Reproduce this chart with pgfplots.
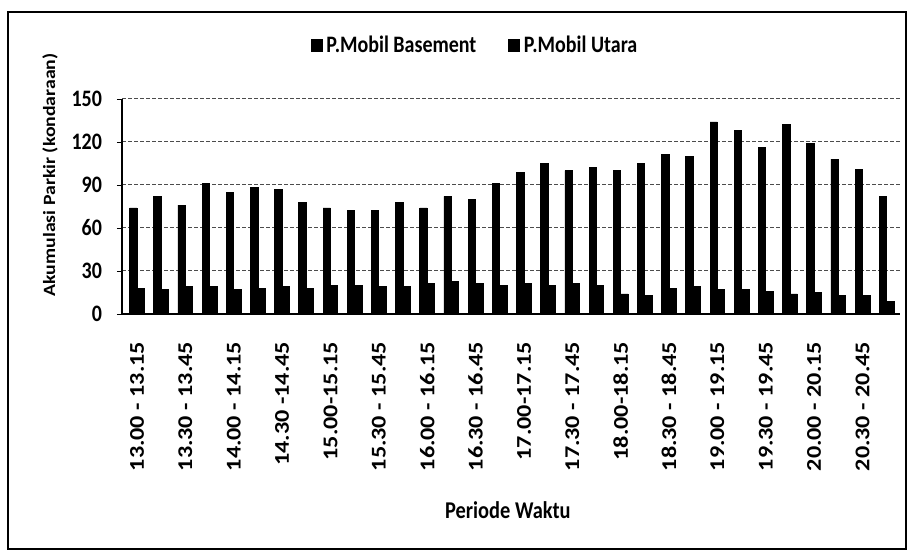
\documentclass[border=0pt]{standalone}
\usepackage{fontspec}
\setmainfont{Carlito}
\usepackage{graphicx}
\usepackage{pgfplots}
\usepackage{pgfplotstable}
\pgfplotsset{compat=1.18}

% the scan is stretched vertically a little
\newcommand\sx[1]{\scalebox{1.15}[1]{#1}}
\newcommand\sy[1]{\scalebox{1}[1.18]{#1}}

\pgfplotstableread{
idx base utara
0   74  18
1   82  17
2   76  19
3   91  19
4   85  17
5   88  18
6   87  19
7   78  18
8   74  20
9   72  20
10  72  19
11  78  19
12  74  21
13  82  23
14  80  21
15  91  20
16  99  21
17  105 20
18  100 21
19  102 20
20  100 14
21  105 13
22  111 18
23  110 19
24  134 17
25  128 17
26  116 16
27  132 14
28  119 15
29  108 13
30  101 13
31  82  9
}\parkir

\begin{document}
\begin{tikzpicture}
\path[use as bounding box] (0,0) rectangle (454.5pt,278pt);
\draw[line width=1pt] (4pt,3.5pt) rectangle (453pt,272pt);
\begin{axis}[
    at={(61pt,121pt)}, anchor=south west,
    scale only axis,
    width=389pt, height=107.5pt,
    ybar=0pt, bar width=3.7pt,
    xmin=-0.62, xmax=31.55,
    ymin=0, ymax=150,
    axis x line=bottom, axis y line=left,
    axis line style={-, black, line width=0.6pt},
    xtick={0,2,...,30},
    xticklabels={\sx{13.00 - 13.15},\sx{13.30 - 13.45},\sx{14.00 - 14.15},\sx{14.30 -14.45},
        \sx{15.00-15.15},\sx{15.30 - 15.45},\sx{16.00 - 16.15},\sx{16.30 - 16.45},
        \sx{17.00-17.15},\sx{17.30 - 17.45},\sx{18.00-18.15},\sx{18.30 - 18.45},
        \sx{19.00 - 19.15},\sx{19.30 - 19.45},\sx{20.00 - 20.15},\sx{20.30 - 20.45}},
    xticklabel style={rotate=90, anchor=east, font=\bfseries\fontsize{10.5}{12}\selectfont},
    xticklabel shift=8pt,
    xtick style={draw=none},
    ytick={0,30,...,150},
    yticklabels={\sy{0},\sy{30},\sy{60},\sy{90},\sy{120},\sy{150}},
    yticklabel style={font=\bfseries\fontsize{10}{12}\selectfont},
    yticklabel shift=4pt,
    tick align=outside, major tick length=2.5pt,
    ytick style={black, thin},
    ymajorgrids=true,
    grid style={black!70, line width=0.5pt, dash pattern=on 2pt off 1pt},
    ylabel={\sx{Akumulasi Parkir (kondaraan)}},
    every axis y label/.style={at={(axis description cs:-0.0925,0.647)}, rotate=90, anchor=center,
        font=\bfseries\fontsize{8.6}{10}\selectfont},
    xlabel={\sy{Periode Waktu}},
    every axis x label/.style={at={(axis description cs:0.496,-0.912)}, anchor=center,
        font=\bfseries\fontsize{10.2}{12}\selectfont},
    legend style={at={(0.455,1.25)}, anchor=center, draw=none, legend columns=2,
        font=\bfseries\fontsize{10}{12}\selectfont, /tikz/every even column/.append style={column sep=14pt}},
    legend image code/.code={\fill[black] (0pt,-3pt) rectangle (5.4pt,3pt);},
]
\addplot[fill=black, draw=black] table[x=idx, y=base] {\parkir};
\addplot[fill=black, draw=black] table[x=idx, y=utara] {\parkir};
\legend{\sy{P.Mobil Basement}, \sy{P.Mobil Utara}}
\end{axis}
\end{tikzpicture}
\end{document}
